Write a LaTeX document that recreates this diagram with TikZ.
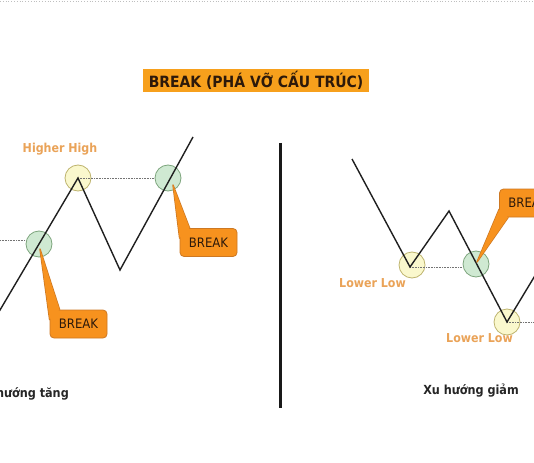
\documentclass[tikz,border=0pt]{standalone}
\usepackage{fontspec}
\setmainfont{DejaVu Sans Condensed}
\usetikzlibrary{calc}
\definecolor{titleor}{RGB}{247,160,28}
\definecolor{callfill}{RGB}{247,146,30}
\definecolor{callline}{RGB}{205,120,35}
\definecolor{lbl}{RGB}{234,163,88}
\definecolor{gfill}{RGB}{207,233,210}
\definecolor{gline}{RGB}{125,165,125}
\definecolor{yfill}{RGB}{250,248,205}
\definecolor{yline}{RGB}{190,180,110}
\definecolor{ink}{RGB}{45,25,10}
\pgfdeclarelayer{paper}
\pgfdeclarelayer{chart}
\pgfdeclarelayer{tail}
\pgfdeclarelayer{top}
\pgfsetlayers{paper,chart,tail,main,top}
\begin{document}
\begin{tikzpicture}[x=1pt,y=-1pt,
 zig/.style={line width=1.4pt, draw=black!88, line join=miter},
 guide/.style={draw=black!55, densely dotted, line width=0.6pt},
 gcirc/.style={circle, minimum size=26pt, inner sep=0, fill=gfill, draw=gline, line width=0.8pt},
 ycirc/.style={circle, minimum size=26pt, inner sep=0, fill=yfill, draw=yline, line width=0.8pt},
 callbox/.style={rounded corners=4pt, fill=callfill, draw=callline, line width=0.8pt, minimum width=57pt, minimum height=28pt, inner sep=0, text=ink, font=\fontsize{13}{13}\selectfont},
 wedge/.style={fill=callfill, draw=callline, line width=1.4pt, line join=round},
 lowlbl/.style={text=lbl, font=\bfseries\fontsize{12.3}{12.3}\selectfont, anchor=base, inner sep=0},
 trend/.style={text=black!85, font=\bfseries\fontsize{12.5}{12.5}\selectfont, anchor=base, inner sep=0}
]
\begin{pgfonlayer}{paper}
\fill[white] (0,0) rectangle (534,462);
\end{pgfonlayer}
\useasboundingbox (0,0) rectangle (534,462);
\clip (0,0) rectangle (534,462);

% top faint dotted rule
\coordinate (tl) at (0,1.5);
\coordinate (tr) at (534,1.5);
\draw[black!25, dotted, line width=0.8pt] (tl) -- (tr);

% title
\node[fill=titleor, text=ink, font=\bfseries\fontsize{15.5}{15.5}\selectfont, minimum width=226pt, minimum height=23pt, inner sep=0] (title) at (256,80.5) {BREAK (PHÁ VỠ CẤU TRÚC)};

% separator
\coordinate (s1) at (280,143);
\coordinate (s2) at (280,408);
\draw[line width=3pt, black!90] (s1) -- (s2);

\begin{pgfonlayer}{chart}
% circles
\node[gcirc] (cA) at (39,244) {};
\node[ycirc] (hh) at (78,178) {};
\node[gcirc] (cB) at (168,178) {};
\node[ycirc] (ll1) at (412,265) {};
\node[gcirc] (cC) at (476,264) {};
\node[ycirc] (ll2) at (507,322) {};

% zigzag points
\coordinate (p0) at (-5,318.5);
\coordinate (p1) at (78,178);
\coordinate (p2) at (120,270);
\coordinate (p3) at (193,137);
\coordinate (r0) at (352,159);
\coordinate (r1) at (410,267);
\coordinate (r2) at (449,211);
\coordinate (r3) at (507,322);
\coordinate (r4) at (545,259);
\coordinate (gl) at (0,240);
\coordinate (edge) at (534,0);

% guides
\draw[guide] (gl) -- (gl -| cA.west);
\draw[guide] (p1) -- (p1 -| cB.west);
\draw[guide] (r1) -- (r1 -| cC.west);
\draw[guide] (r3) -- (r3 -| edge);

% price lines
\draw[zig] (p0) -- (p1) -- (p2) -- (p3);
\draw[zig] (r0) -- (r1) -- (r2) -- (r3) -- (r4);
\end{pgfonlayer}

% labels
\node[lowlbl] (lhh) at (60,153) {Higher High};
\node[lowlbl] (lll1) at (372.5,287) {Lower Low};
\node[lowlbl] (lll2) at (479.5,342) {Lower Low};

% callouts
\node[callbox] (ba) at (78.5,324) {BREAK};
\node[callbox] (bb) at (208.5,242.5) {BREAK};
\node[callbox] (bc) at (528,203) {BREAK};
\coordinate (tipA) at (40,249);
\coordinate (tipB) at (173,185);
\coordinate (tipC) at (477,262);
\begin{pgfonlayer}{tail}
\filldraw[wedge] (tipA) -- ($(ba.north west)+(0,10)$) -- ($(ba.north west)+(10,0)$) -- cycle;
\filldraw[wedge] (tipB) -- ($(bb.north west)+(0,10)$) -- ($(bb.north west)+(10,0)$) -- cycle;
\filldraw[wedge] (tipC) -- ($(bc.south west)+(0,-8)$) -- ($(bc.south west)+(9,0)$) -- cycle;
\end{pgfonlayer}
\begin{pgfonlayer}{top}
\fill[callfill] (tipA) -- ($(ba.north west)+(0,10)$) -- ($(ba.north west)+(10,0)$) -- cycle;
\fill[callfill] (tipB) -- ($(bb.north west)+(0,10)$) -- ($(bb.north west)+(10,0)$) -- cycle;
\fill[callfill] (tipC) -- ($(bc.south west)+(0,-8)$) -- ($(bc.south west)+(9,0)$) -- cycle;
\end{pgfonlayer}

% trend captions
\node[trend, anchor=base east] (up) at (69,397) {Xu hướng tăng};
\node[trend] (down) at (471,394) {Xu hướng giảm};
\end{tikzpicture}
\end{document}
